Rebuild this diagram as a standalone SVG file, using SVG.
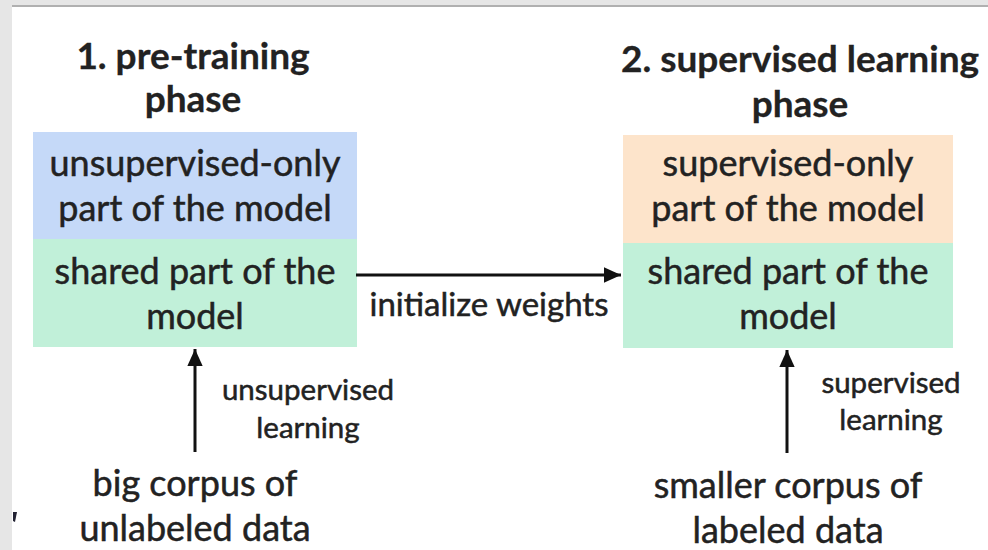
<svg xmlns="http://www.w3.org/2000/svg" width="988" height="550" viewBox="0 0 988 550">
<defs>
<style>
.t{font-family:Lato,"Open Sans","Liberation Sans",sans-serif;fill:#222;stroke:#222;stroke-width:0.5;text-anchor:middle}
.m{font-size:36px}
.w{font-size:33px}
.h{font-size:37px;font-weight:bold;stroke-width:0.3}
.s{font-size:29.5px}
.c{stroke:#111;stroke-width:3;fill:none}
</style>
<marker id="ah" viewBox="0 0 10 10" refX="10" refY="5" markerWidth="5.8" markerHeight="5.8" markerUnits="strokeWidth" orient="auto">
<path d="M0,0.5 L10,5 L0,9.5 Z" fill="#111"/>
</marker>
</defs>
<rect x="0" y="0" width="988" height="550" fill="#fff"/>
<rect x="0" y="0" width="988" height="6" fill="#e6e6e6"/>
<rect x="0" y="0" width="12" height="550" fill="#e6e6e6"/>
<rect x="12" y="5" width="976" height="2" fill="#b0b0b0"/>
<path d="M13,512 L17,512 L15,522 L13,521 Z" fill="#223"/>

<g id="title1"><text class="t h" x="193" y="69">1. pre-training</text><text class="t h" x="193" y="112">phase</text></g>
<g id="title2"><text class="t h" x="800" y="72">2. supervised learning</text><text class="t h" x="800" y="117">phase</text></g>

<g id="unsup-only">
<rect x="33" y="132" width="324" height="107" fill="#c5d9f8"/>
<text class="t m" x="195" y="176">unsupervised-only</text>
<text class="t m" x="195" y="221">part of the model</text>
</g>
<g id="shared1">
<rect x="33" y="239" width="324" height="108" fill="#c1f0d9"/>
<text class="t m" x="195" y="284">shared part of the</text>
<text class="t m" x="195" y="329">model</text>
</g>
<g id="sup-only">
<rect x="623" y="135" width="330" height="108" fill="#fde4cb"/>
<text class="t m" x="788" y="176">supervised-only</text>
<text class="t m" x="788" y="221">part of the model</text>
</g>
<g id="shared2">
<rect x="623" y="243" width="330" height="105" fill="#c1f0d9"/>
<text class="t m" x="788" y="284">shared part of the</text>
<text class="t m" x="788" y="329">model</text>
</g>
<g id="corpus1">
<text class="t m" x="195" y="496">big corpus of</text>
<text class="t m" x="195" y="541">unlabeled data</text>
</g>
<g id="corpus2">
<text class="t m" x="788" y="498">smaller corpus of</text>
<text class="t m" x="788" y="543">labeled data</text>
</g>

<g id="connectors">
<line class="c" x1="356" y1="275" x2="621" y2="275" marker-end="url(#ah)"/>
<text class="t w" x="489" y="316">initialize weights</text>
<line class="c" x1="195" y1="452" x2="195" y2="349" marker-end="url(#ah)"/>
<text class="t s" x="308" y="400">unsupervised</text>
<text class="t s" x="308" y="438">learning</text>
<line class="c" x1="787" y1="453" x2="787" y2="350" marker-end="url(#ah)"/>
<text class="t s" x="891" y="393">supervised</text>
<text class="t s" x="891" y="430">learning</text>
</g>
</svg>
